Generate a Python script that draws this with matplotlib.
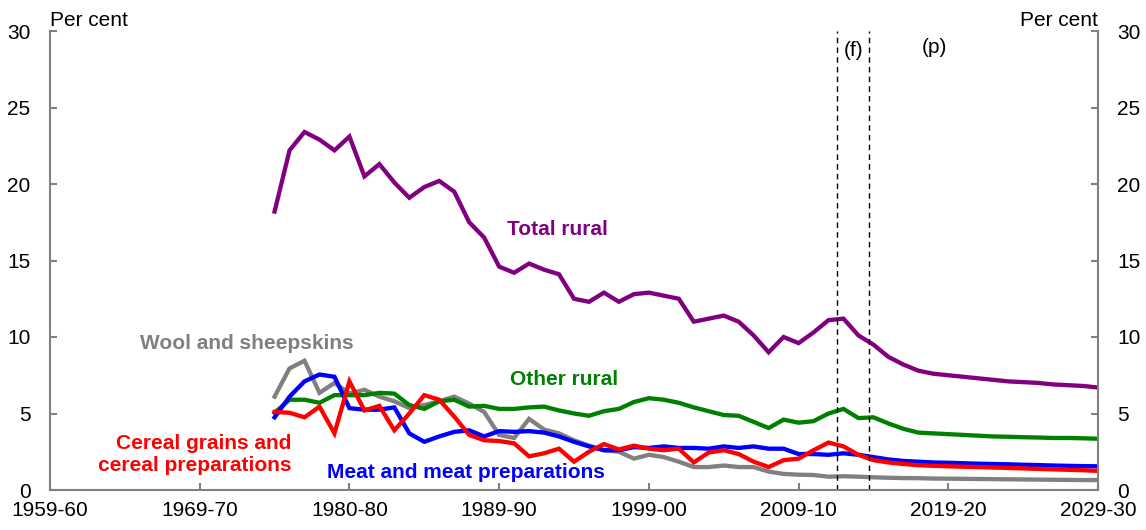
import matplotlib
matplotlib.use("Agg")
import matplotlib.pyplot as plt

plt.rcParams["font.family"] = ["Liberation Sans", "DejaVu Sans"]

# year ending (1975 = 1974-75)
years = list(range(1975, 2031))

total_rural = [18.2, 22.2, 23.4, 22.9, 22.2, 23.1, 20.5, 21.3, 20.1, 19.1,
               19.8, 20.2, 19.5, 17.5, 16.5, 14.6, 14.2, 14.8, 14.4, 14.1,
               12.5, 12.3, 12.9, 12.3, 12.8, 12.9, 12.7, 12.5, 11.0, 11.2,
               11.4, 11.0, 10.1, 9.0, 10.0, 9.6, 10.3, 11.1, 11.2, 10.1,
               9.5, 8.7, 8.2, 7.8, 7.6, 7.5, 7.4, 7.3, 7.2, 7.1,
               7.05, 7.0, 6.9, 6.85, 6.8, 6.7]
other_rural = [5.05, 5.9, 5.9, 5.7, 6.2, 6.2, 6.2, 6.35, 6.3, 5.55,
               5.3, 5.8, 5.9, 5.45, 5.5, 5.3, 5.3, 5.4, 5.45, 5.2,
               5.0, 4.85, 5.15, 5.3, 5.75, 6.0, 5.9, 5.7, 5.4, 5.15,
               4.9, 4.85, 4.45, 4.05, 4.6, 4.4, 4.5, 5.0, 5.3, 4.7,
               4.75, 4.35, 4.0, 3.75, 3.7, 3.65, 3.6, 3.55, 3.5, 3.48,
               3.45, 3.43, 3.4, 3.4, 3.38, 3.35]
meat = [4.75, 6.1, 7.1, 7.55, 7.4, 5.35, 5.25, 5.25, 5.4, 3.7,
        3.15, 3.5, 3.8, 3.9, 3.5, 3.85, 3.8, 3.85, 3.75, 3.5,
        3.15, 2.85, 2.6, 2.6, 2.8, 2.75, 2.85, 2.75, 2.75, 2.7,
        2.85, 2.75, 2.85, 2.7, 2.7, 2.35, 2.35, 2.3, 2.4, 2.3,
        2.15, 2.0, 1.9, 1.85, 1.8, 1.78, 1.75, 1.72, 1.7, 1.68,
        1.65, 1.63, 1.6, 1.58, 1.56, 1.55]
cereal = [5.1, 5.05, 4.75, 5.45, 3.7, 7.1, 5.2, 5.5, 3.9, 5.0,
          6.2, 5.9, 4.8, 3.6, 3.25, 3.2, 3.05, 2.2, 2.4, 2.7,
          1.85, 2.5, 3.0, 2.65, 2.9, 2.7, 2.6, 2.7, 1.8, 2.45,
          2.6, 2.35, 1.85, 1.5, 1.95, 2.05, 2.6, 3.1, 2.85, 2.3,
          1.95, 1.8, 1.7, 1.62, 1.58, 1.55, 1.52, 1.5, 1.47, 1.44,
          1.41, 1.38, 1.35, 1.32, 1.29, 1.25]
wool = [6.1, 7.95, 8.45, 6.35, 7.0, 6.3, 6.55, 6.1, 5.8, 5.35,
        5.55, 5.8, 6.1, 5.65, 5.1, 3.6, 3.4, 4.65, 3.95, 3.7,
        3.25, 2.9, 2.6, 2.5, 2.05, 2.3, 2.15, 1.85, 1.5, 1.5,
        1.6, 1.5, 1.5, 1.2, 1.05, 1.0, 0.98, 0.87, 0.9, 0.87,
        0.83, 0.8, 0.78, 0.77, 0.75, 0.74, 0.73, 0.72, 0.71, 0.7,
        0.69, 0.68, 0.67, 0.66, 0.65, 0.65]

tick_years = [1960, 1970, 1980, 1990, 2000, 2010, 2020, 2030]
tick_labels = ["1959-60", "1969-70", "1980-80", "1989-90", "1999-00",
               "2009-10", "2019-20", "2029-30"]
forecast_lines = [2012.6, 2014.7]

FS = 15
SPINE = "#808080"

fig = plt.figure(figsize=(11.46, 5.30), dpi=100)
ax = fig.add_axes([50 / 1146, 1 - 490 / 530, 1048 / 1146, 459 / 530])

series = [
    (wool, "#808080"),
    (other_rural, "#008000"),
    (meat, "#0000FF"),
    (cereal, "#FF0000"),
    (total_rural, "#800080"),
]
for vals, col in series:
    ax.plot(years, vals, color=col, linewidth=3.1, solid_joinstyle="miter")

for xv in forecast_lines:
    ax.axvline(xv, color="black", linestyle=(0, (4, 3)), linewidth=1.0)

ax.set_xlim(1960, 2030)
ax.set_ylim(0, 30)
ax.set_yticks(range(0, 31, 5))
ax.set_xticks(tick_years)
ax.set_xticklabels(tick_labels)

for side in ["left", "right", "bottom"]:
    ax.spines[side].set_color(SPINE)
    ax.spines[side].set_linewidth(1.5)
ax.spines["top"].set_visible(False)

ax.tick_params(axis="both", direction="in", length=5, width=1.5,
               color=SPINE, labelsize=FS, labelcolor="black")
ax.tick_params(axis="y", left=True, right=True, labelleft=True,
               labelright=True, pad=14)
ax.tick_params(axis="x", pad=8)

ax.text(0, 1.003, "Per cent", transform=ax.transAxes, fontsize=FS,
        ha="left", va="bottom")
ax.text(1, 1.003, "Per cent", transform=ax.transAxes, fontsize=FS,
        ha="right", va="bottom")

ax.text(2013.7, 28.7, "(f)", fontsize=FS, ha="center", va="center")
ax.text(2019.1, 28.9, "(p)", fontsize=FS, ha="center", va="center")

ax.text(1990.5, 17.0, "Total rural", color="#800080", fontsize=FS,
        fontweight="bold", ha="left", va="center")
ax.text(1966.0, 9.6, "Wool and sheepskins", color="#808080", fontsize=FS,
        fontweight="bold", ha="left", va="center")
ax.text(1990.7, 7.2, "Other rural", color="#008000", fontsize=FS,
        fontweight="bold", ha="left", va="center")
ax.text(1976.1, 2.3, "Cereal grains and\ncereal preparations",
        color="#FF0000", fontsize=FS, fontweight="bold", ha="right",
        va="center", linespacing=1.2)
ax.text(1978.5, 1.15, "Meat and meat preparations", color="#0000FF",
        fontsize=FS, fontweight="bold", ha="left", va="center")

fig.savefig("out.png", dpi=100)
